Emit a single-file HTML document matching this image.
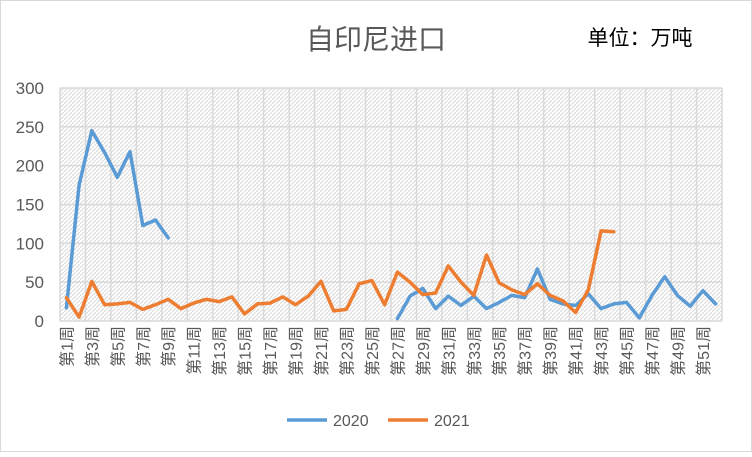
<!DOCTYPE html>
<html><head><meta charset="utf-8"><style>
body{margin:0;background:#fff}
svg text{font-family:"Liberation Sans","Noto Sans CJK SC",sans-serif}
</style></head><body>
<svg width="752" height="452" xmlns="http://www.w3.org/2000/svg">
<defs>
<pattern id="hatch" width="4" height="4" patternUnits="userSpaceOnUse">
<rect width="4" height="4" fill="#fff"/>
<path d="M0,4 L4,0" stroke="#d9d9d9" stroke-width="1"/>
</pattern>
</defs>
<rect x="0.5" y="0.5" width="751" height="451" fill="#fff" stroke="#d9d9d9"/>
<text x="376" y="49" font-size="28" fill="#595959" text-anchor="middle">自印尼进口</text>
<text x="640" y="45" font-size="21" fill="#000" text-anchor="middle">单位：万吨</text>
<rect x="60" y="88" width="662" height="233" fill="url(#hatch)"/>
<g id="grid"></g>
<g id="yticks"></g>
<g id="xticks"></g>
<g id="series"></g>
<g>
<line x1="287" y1="420" x2="327" y2="420" stroke="#5b9bd5" stroke-width="3.5"/>
<text x="333" y="426" font-size="16" fill="#595959">2020</text>
<line x1="388" y1="420" x2="428" y2="420" stroke="#ed7d31" stroke-width="3.5"/>
<text x="434" y="426" font-size="16" fill="#595959">2021</text>
</g>
</svg>
<script>
const weeks = Array.from({length:52},(_,i)=>'第'+(i+1)+'周');
const yTicks = [0,50,100,150,200,250,300];
const s2020 = [17,175,245,217,185,218,123,130,107,null,null,null,null,null,null,null,null,null,null,null,null,null,null,null,null,null,3,32,42,16,32,20,32,16,24,33,30,67,28,22,20,35,16,22,24,4,33,57,33,19,39,22];
const s2021 = [30,5,51,21,22,24,15,21,28,16,23,28,25,31,9,22,23,31,21,32,51,13,15,48,52,21,63,50,34,36,71,50,33,85,49,40,34,48,33,26,11,40,116,115];
const NS='http://www.w3.org/2000/svg';
const L=60,R=722,T=88,B=321,yMax=300;
const bw=(R-L)/weeks.length;
const xs=i=>L+bw*(i+0.5);
const ys=v=>B-(v/yMax)*(B-T);
function mk(tag,attrs,parent){const e=document.createElementNS(NS,tag);for(const k in attrs)e.setAttribute(k,attrs[k]);document.getElementById(parent).appendChild(e);return e;}
yTicks.forEach(v=>{
  const g=mk('line',{x1:L,x2:R,y1:ys(v),y2:ys(v),stroke:'#d9d9d9','stroke-width':1.5},'grid');
  
  
  const t=mk('text',{x:L-16,y:ys(v)+6,'font-size':17,fill:'#595959','text-anchor':'end'},'yticks');
  t.textContent=v;
  
  
});
for(let i=0;i<=weeks.length;i+=2){
  const g=mk('line',{x1:L+bw*i,x2:L+bw*i,y1:T,y2:B,stroke:'#d9d9d9','stroke-width':1.5},'grid');
  
  
}
weeks.forEach((w,i)=>{
  if(i%2)return;
  const x=xs(i)+6,y=B+5;
  const t=mk('text',{x:x,y:y,'font-size':16,fill:'#595959','text-anchor':'end',transform:`rotate(-90 ${x} ${y})`},'xticks');
  t.textContent=w;
  
  
});
function draw(data,color,name){
  let d='',pen=false;
  data.forEach((v,i)=>{if(v==null){pen=false;return;}d+=(pen?'L':'M')+xs(i).toFixed(1)+','+ys(v).toFixed(1);pen=true;});
  const p=mk('path',{d:d,fill:'none',stroke:color,'stroke-width':3.5,'stroke-linejoin':'round','stroke-linecap':'round'},'series');
  
  
}
draw(s2020,'#5b9bd5','line-2020');
draw(s2021,'#ed7d31','line-2021');
</script>
</body></html>
